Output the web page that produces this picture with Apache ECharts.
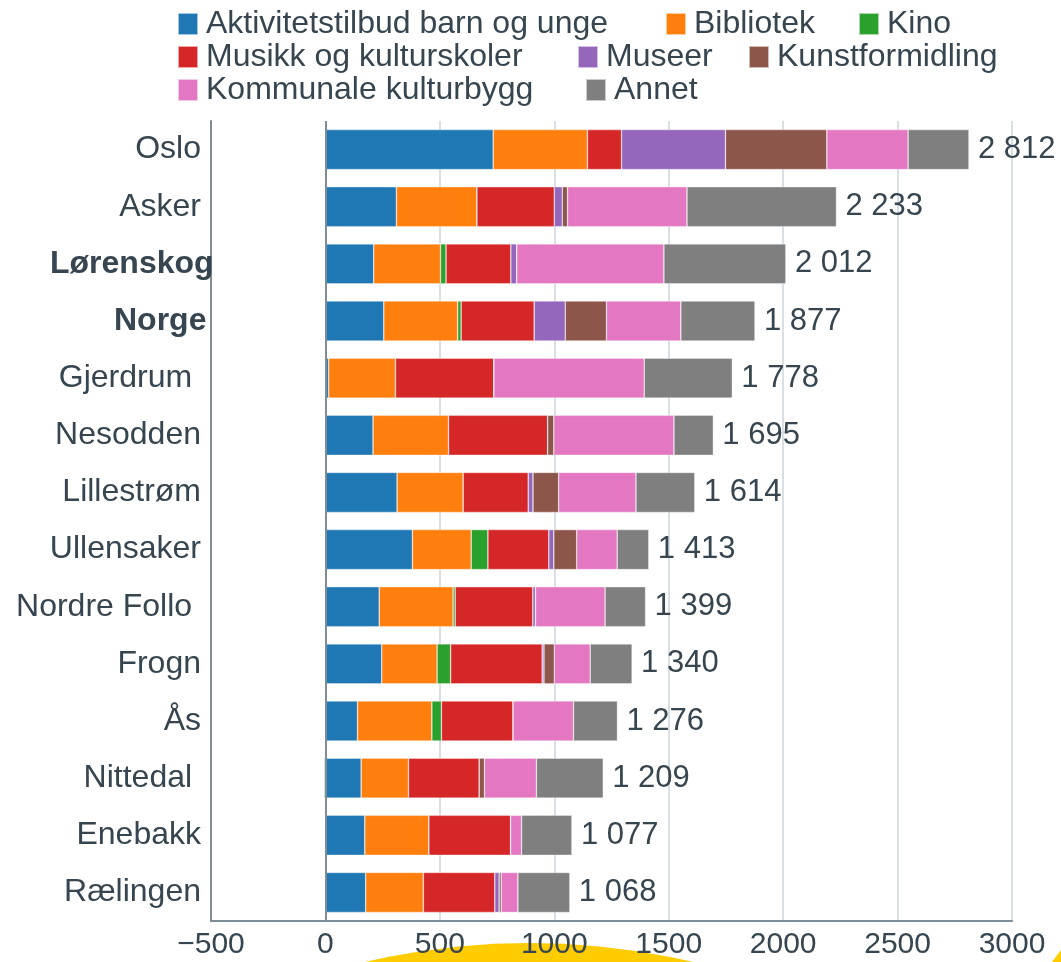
<!DOCTYPE html>
<html>
<head>
<meta charset="utf-8">
<script src="https://cdn.jsdelivr.net/npm/echarts@6/dist/echarts.min.js"></script>
<style>
  html, body { margin: 0; padding: 0; background: #fff; }
  #main { width: 1061px; height: 962px; }
</style>
</head>
<body>
<div id="main"></div>
<script>
var kommuner = ['Oslo', 'Asker', 'Lørenskog', 'Norge', 'Gjerdrum ', 'Nesodden', 'Lillestrøm',
  'Ullensaker', 'Nordre Follo ', 'Frogn', 'Ås', 'Nittedal ', 'Enebakk', 'Rælingen'];
var uthevet = ['Lørenskog', 'Norge'];

var aktivitet = [733, 310, 211, 255, 14, 208, 313, 380, 235, 246, 140, 156, 172, 176];
var bibliotek = [412, 352, 292, 323, 292, 330, 289, 257, 323, 242, 325, 207, 280, 252];
var kino      = [0, 0, 24, 15, 0, 0, 0, 73, 9, 59, 42, -5, 0, 0];
var musikk    = [149, 338, 283, 319, 430, 433, 284, 266, 339, 400, 313, 309, 357, 312];
var museer    = [454, 35, 26, 136, 0, 0, 21, 22, 12, 8, 0, 0, 0, 19];
var kunst     = [443, 23, 0, 180, 0, 27, 112, 100, 0, 45, 0, 23, 0, 9];
var kulturbygg = [355, 522, 643, 325, 657, 525, 338, 177, 304, 157, 264, 227, 48, 73];
var annet     = [266, 653, 533, 324, 385, 172, 257, 138, 177, 183, 192, 292, 220, 227];

var navn = ['Aktivitetstilbud barn og unge', 'Bibliotek', 'Kino', 'Musikk og kulturskoler',
  'Museer', 'Kunstformidling', 'Kommunale kulturbygg', 'Annet'];
var farger = ['#1f77b4', '#ff7f0e', '#2ca02c', '#d62728', '#9467bd', '#8c564b', '#e377c2', '#7f7f7f'];
var alle = [aktivitet, bibliotek, kino, musikk, museer, kunst, kulturbygg, annet];

// legend item placement (icon left x, row top y)
var legendPos = [[177, 8], [665, 8], [858, 8], [177, 41], [577, 41], [748, 41], [177, 74], [585, 74]];

var totals = kommuner.map(function (k, i) {
  var s = 0;
  alle.forEach(function (a) { s += a[i]; });
  return s;
});

function fmt(n) {
  return String(n).replace(/\B(?=(\d{3})+(?!\d))/g, ' ');
}

var txt = '#36454f';
var font = "'Liberation Sans', Arial, sans-serif";
var yfs = 32;

// bold labels are placed as if they were regular weight (as in the original)
var ctx = document.createElement('canvas').getContext('2d');
ctx.font = yfs + 'px ' + font;
var rich = {};
uthevet.forEach(function (v, i) {
  rich['b' + i] = { fontWeight: 'bold', color: txt, fontSize: yfs, fontFamily: font,
    width: Math.round(ctx.measureText(v).width), align: 'left' };
});

var series = alle.map(function (arr, i) {
  var s = {
    name: navn[i],
    type: 'bar',
    stack: 'tot',
    barCategoryGap: '30%',
    data: arr,
    itemStyle: { color: farger[i], borderColor: 'rgba(255,255,255,0.6)', borderWidth: 0.6 }
  };
  if (i == 0) {
    s.markLine = {
      silent: true,
      symbol: 'none',
      label: { show: false },
      lineStyle: { color: '#7f8c95', width: 2, type: 'solid' },
      data: [{ xAxis: 0 }]
    };
  }
  if (i == alle.length - 1) {
    s.label = {
      show: true,
      position: 'right',
      distance: 9,
      color: txt,
      fontSize: 31,
      fontFamily: font,
      formatter: function (p) { return fmt(totals[p.dataIndex]); }
    };
  }
  return s;
});

var legends = navn.map(function (n, i) {
  return {
    data: [n],
    left: legendPos[i][0],
    top: legendPos[i][1],
    padding: 0,
    icon: 'rect',
    itemWidth: 20,
    itemHeight: 22,
    textStyle: { color: txt, fontSize: 32, fontFamily: font, padding: [0, 0, 0, 3] }
  };
});

var myChart = echarts.init(document.getElementById('main'));
var option = {
  animation: false,
  textStyle: { fontFamily: font },
  graphic: [
    { type: 'circle', z: -10, shape: { cx: 529, cy: 1660, r: 717 }, style: { fill: '#ffcc00' } },
    { type: 'polygon', z: -10, shape: { points: [[1052, 962], [1061, 950], [1061, 962]] }, style: { fill: '#ffcc00' } }
  ],
  legend: legends,
  grid: { left: 211, right: 49, top: 121, bottom: 41, containLabel: false },
  xAxis: {
    type: 'value',
    min: -500,
    max: 3000,
    interval: 500,
    axisLine: { show: true, lineStyle: { color: '#7f8c95', width: 2 } },
    axisTick: { show: false },
    splitLine: { show: true, lineStyle: { color: '#ccd6dd', width: 1.5 } },
    axisLabel: {
      color: txt, fontSize: 30, fontFamily: font, margin: 9,
      formatter: function (v) { return v < 0 ? '\u2212' + Math.abs(v) : String(v); }
    }
  },
  yAxis: {
    type: 'category',
    inverse: true,
    data: kommuner,
    axisLine: { show: true, onZero: false, lineStyle: { color: '#7f8c95', width: 2 } },
    axisTick: { show: false },
    axisLabel: {
      color: txt, fontSize: yfs, fontFamily: font, margin: 10,
      formatter: function (v) {
        var k = uthevet.indexOf(v);
        if (k >= 0) return '{b' + k + '|' + v + '}';
        return v;
      },
      rich: rich
    }
  },
  series: series
};
myChart.setOption(option);
window.onresize = myChart.resize;
</script>
</body>
</html>
